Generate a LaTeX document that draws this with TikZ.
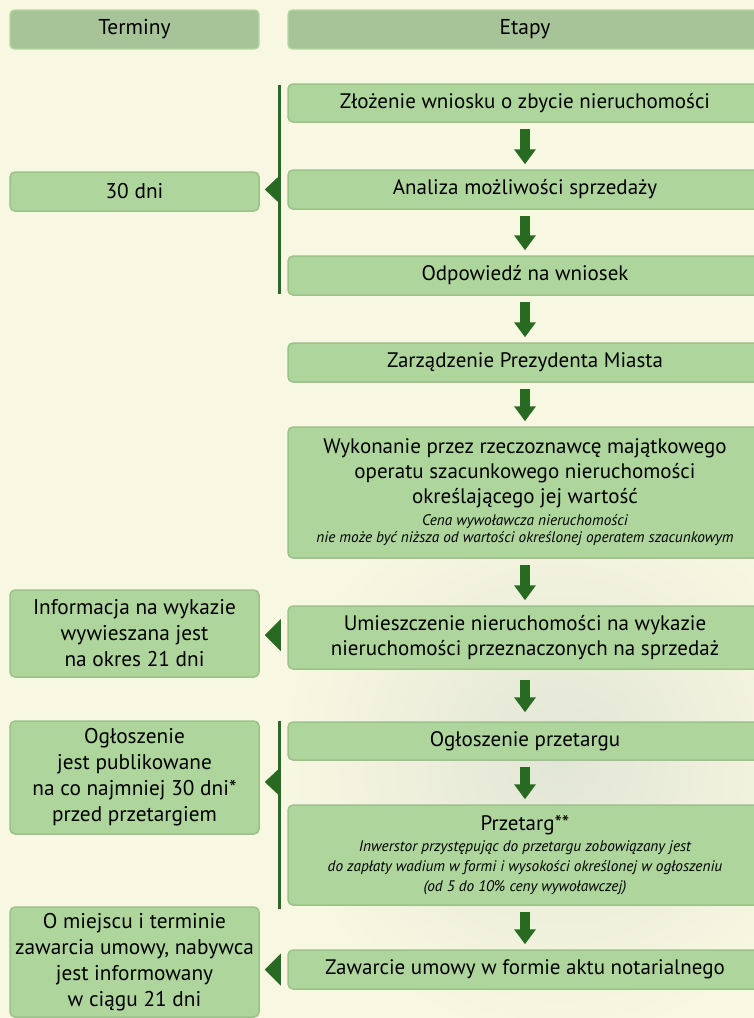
\documentclass[tikz,border=0pt]{standalone}
\usepackage{fontspec}
\setmainfont{PT Sans}
\usetikzlibrary{arrows.meta,calc}

\definecolor{bgcream}{HTML}{F8F7E1}
\definecolor{bgshade}{HTML}{E2E6D6}
\definecolor{headfill}{HTML}{A7C498}
\definecolor{headline}{HTML}{B6D9A3}
\definecolor{boxfill}{HTML}{AED69C}
\definecolor{boxline}{HTML}{9DC18B}
\definecolor{dkgreen}{HTML}{286A22}

\begin{document}
\begin{tikzpicture}[x=1pt,y=-1pt,
    head/.style={draw=headline, fill=headfill, line width=1.2pt, rounded corners=4pt,
      minimum height=39pt, inner sep=0pt, font=\fontsize{21.5}{25}\selectfont},
    stage/.style={draw=boxline, fill=boxfill, line width=1.5pt, rounded corners=5pt,
      minimum width=474pt, inner sep=0pt, align=center, font=\fontsize{21}{25}\selectfont},
    term/.style={stage, minimum width=249pt, font=\fontsize{21.3}{26}\selectfont},
    down/.style={dkgreen, line width=10pt, -{Triangle[width=21pt,length=15pt]},
      shorten <=6pt, shorten >=5pt},
    brace/.style={dkgreen, line width=2.5pt}]
    \useasboundingbox (0,0) rectangle (754,1018);
    % background
    \fill[bgcream] (0,0) rectangle (754,1018);
    \shade[inner color=bgshade, outer color=bgcream] (560,760) circle (280pt);

    % column heads
    \node[head, minimum width=249pt] (hterm) at (134.5,29.5) {Terminy};
    \node[head, minimum width=474pt] (hstage) at (525,29.5) {Etapy};

    % stages
    \node[stage, minimum height=38pt] (s1) at (525,103) {Złożenie wniosku o zbycie nieruchomości};
    \node[stage, minimum height=39pt] (s2) at (525,189.5) {Analiza możliwości sprzedaży};
    \node[stage, minimum height=39pt] (s3) at (525,275.5) {Odpowiedź na wniosek};
    \node[stage, minimum height=39pt] (s4) at (525,362.5) {Zarządzenie Prezydenta Miasta};
    \node[stage, minimum height=131pt] (s5) at (525,492.5) {Wykonanie przez rzeczoznawcę majątkowego\\
      operatu szacunkowego nieruchomości\\
      określającego jej wartość\\[-3pt]
      {\fontsize{15.3}{17}\selectfont\itshape Cena wywoławcza nieruchomości}\\[-8pt]
      {\fontsize{15.3}{17}\selectfont\itshape nie może być niższa od wartości określonej operatem szacunkowym}};
    \node[stage, minimum height=63pt] (s6) at (525,637.5) {Umieszczenie nieruchomości na wykazie\\
      nieruchomości przeznaczonych na sprzedaż};
    \node[stage, minimum height=38pt] (s7) at (525,741) {Ogłoszenie przetargu};
    \node[stage, minimum height=100pt] (s8) at (525,855) {Przetarg**\\[-4pt]
      {\fontsize{15.3}{17}\selectfont\itshape Inwerstor przystępując do przetargu zobowiązany jest}\\[-5pt]
      {\fontsize{15.3}{17}\selectfont\itshape do zapłaty wadium w formi i wysokości określonej w ogłoszeniu}\\[-5pt]
      {\fontsize{15.3}{17}\selectfont\itshape (od 5 do 10\% ceny wywoławczej)}};
    \node[stage, minimum height=39pt] (s9) at (525,969.5) {Zawarcie umowy w formie aktu notarialnego};

    % terms
    \node[term, minimum height=39pt] (t1) at (134.5,191.5) {30 dni};
    \node[term, minimum height=87pt] (t2) at (134.5,633.5) {Informacja na wykazie\\ wywieszana jest\\ na okres 21 dni};
    \node[term, minimum height=113pt] (t3) at (134.5,777.5) {Ogłoszenie\\ jest publikowane\\ na co najmniej 30 dni*\\ przed przetargiem};
    \node[term, minimum height=110pt] (t4) at (134.5,962) {O miejscu i terminie\\ zawarcia umowy, nabywca\\ jest informowany\\ w ciągu 21 dni};

    % flow arrows
    \draw[down] (s1) -- (s2);
    \draw[down] (s2) -- (s3);
    \draw[down] (s3) -- (s4);
    \draw[down] (s4) -- (s5);
    \draw[down] (s5) -- (s6);
    \draw[down, shorten <=10pt, shorten >=9pt] (s6) -- (s7);
    \draw[down] (s7) -- (s8);
    \draw[down] (s8) -- (s9);

    % brackets and pointers
    \draw[brace] ($(s1.north west)+(-8,2)$) -- ($(s3.south west)+(-8,-2)$);
    \draw[brace] ($(s7.north west)+(-8,0)$) -- ($(s8.south west)+(-8,3)$);
    \fill[dkgreen] ($(t1.east |- s2)+(5,0)$) -- ++(16,-15) -- ++(0,30) -- cycle;
    \fill[dkgreen] ($(t2.east |- s6)+(5,-2.5)$) -- ++(16,-16) -- ++(0,32) -- cycle;
    \fill[dkgreen] ($(t3.east)+(5,4.5)$) -- ++(16,-15) -- ++(0,30) -- cycle;
    \fill[dkgreen] ($(t4.east |- s9)+(5,0)$) -- ++(16,-16) -- ++(0,32) -- cycle;
\end{tikzpicture}
\end{document}
